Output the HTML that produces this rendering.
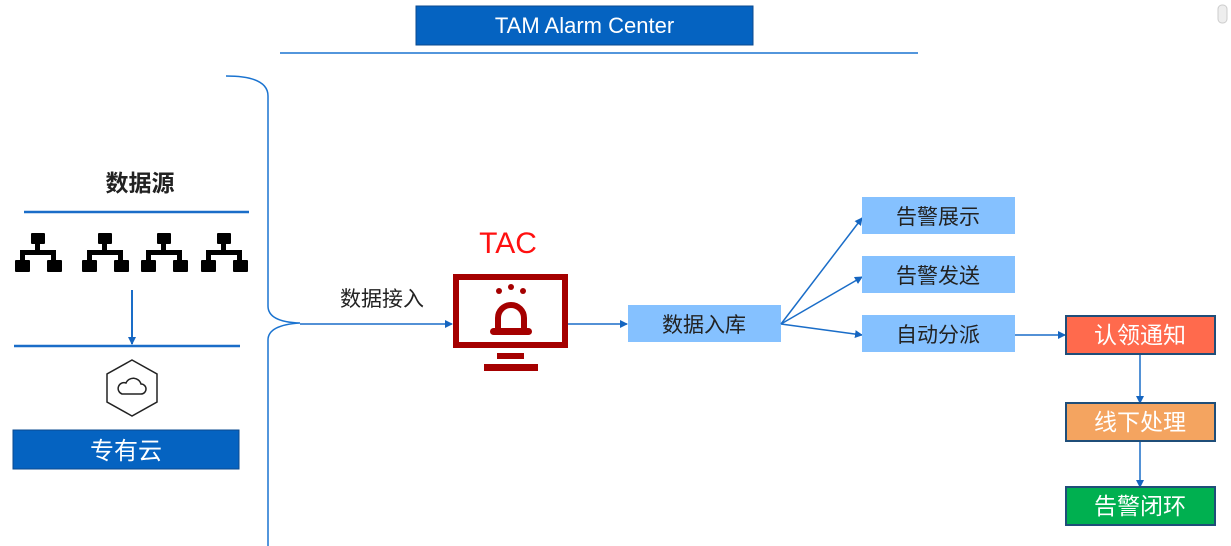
<!DOCTYPE html>
<html><head><meta charset="utf-8"><style>
body{margin:0;background:#fff;}
svg{display:block;font-family:"Liberation Sans","Noto Sans CJK SC",sans-serif;}
</style></head><body>
<svg width="1231" height="546" viewBox="0 0 1231 546">
<defs>
<marker id="a" markerWidth="8" markerHeight="8" refX="7" refY="4" orient="auto" markerUnits="userSpaceOnUse"><path d="M0,0 L8,4 L0,8 Z" fill="#1565C0"/></marker>
<g id="net"><rect x="16" y="0" width="14" height="11" rx="1"/><rect x="20" y="9" width="5" height="10"/><rect x="5" y="17" width="36" height="5"/><rect x="5" y="17" width="5" height="12"/><rect x="36" y="17" width="5" height="12"/><rect x="0" y="27" width="15" height="12" rx="1"/><rect x="32" y="27" width="15" height="12" rx="1"/></g>
</defs>
<rect x="416" y="6" width="337" height="39" fill="#0563C1" stroke="#0a4a8f" stroke-width="1"/>
<text x="584.5" y="33" fill="#fff" font-size="22" text-anchor="middle">TAM Alarm Center</text>
<line x1="280" y1="53" x2="918" y2="53" stroke="#1a73d0" stroke-width="1.5"/>
<rect x="1218" y="5" width="9" height="18" rx="4" fill="#eee" stroke="#ccc"/>
<path d="M226,76 Q268,76 268,96 L268,306 Q268,322 300,323 Q268,325 268,340 L268,546" fill="none" stroke="#1a73d0" stroke-width="1.5"/>
<text x="140" y="191" font-size="23" font-weight="bold" text-anchor="middle" fill="#222">数据源</text>
<line x1="24" y1="212" x2="249" y2="212" stroke="#1a6dc8" stroke-width="2.5"/>
<use href="#net" x="15" y="233"/><use href="#net" x="82" y="233"/><use href="#net" x="141" y="233"/><use href="#net" x="201" y="233"/>
<line x1="132" y1="290" x2="132" y2="344" stroke="#1a6dc8" stroke-width="2" marker-end="url(#a)"/>
<line x1="14" y1="346" x2="240" y2="346" stroke="#1a6dc8" stroke-width="2.5"/>
<polygon points="132,360 157,374 157,402 132,416 107,402 107,374" fill="none" stroke="#222" stroke-width="1.5"/>
<path d="M122,394 h19 a5,5 0 0 0 0,-10 a8,8 0 0 0 -15,-1 a5,5 0 0 0 -4,11 z" fill="none" stroke="#222" stroke-width="1.5"/>
<rect x="13" y="430" width="226" height="39" fill="#0563C1" stroke="#0a4a8f"/>
<text x="126" y="459" fill="#fff" font-size="24" text-anchor="middle">专有云</text>
<text x="382" y="306" font-size="21" text-anchor="middle" fill="#222">数据接入</text>
<line x1="300" y1="324" x2="452" y2="324" stroke="#1a6dc8" stroke-width="1.5" marker-end="url(#a)"/>
<text x="508" y="253" font-size="30" fill="#ff1010" text-anchor="middle">TAC</text>
<rect x="456" y="277" width="109" height="68" fill="none" stroke="#A50000" stroke-width="6"/>
<rect x="497" y="353" width="27" height="6" fill="#A50000"/>
<rect x="484" y="364" width="54" height="7" fill="#A50000"/>
<path d="M498,331 v-13 a13,13 0 0 1 26,0 v13" fill="none" stroke="#A50000" stroke-width="6"/>
<rect x="490" y="328" width="42" height="7" rx="3.5" fill="#A50000"/>
<circle cx="511" cy="287" r="3" fill="#A50000"/><circle cx="499" cy="291" r="3" fill="#A50000"/><circle cx="523" cy="291" r="3" fill="#A50000"/>
<line x1="568" y1="324" x2="627" y2="324" stroke="#1a6dc8" stroke-width="1.5" marker-end="url(#a)"/>
<rect x="628" y="305" width="153" height="37" fill="#85C1FF"/>
<text x="704" y="332" font-size="21" text-anchor="middle" fill="#222">数据入库</text>
<g stroke="#1a6dc8" stroke-width="1.5" marker-end="url(#a)">
<line x1="781" y1="324" x2="862" y2="218"/><line x1="781" y1="324" x2="862" y2="277"/><line x1="781" y1="324" x2="862" y2="335"/>
<line x1="1015" y1="335" x2="1065" y2="335"/>
<line x1="1140" y1="354" x2="1140" y2="403"/><line x1="1140" y1="442" x2="1140" y2="487"/>
</g>
<g font-size="21" text-anchor="middle" fill="#222">
<rect x="862" y="197" width="153" height="37" fill="#85C1FF"/><text x="938" y="224">告警展示</text>
<rect x="862" y="256" width="153" height="37" fill="#85C1FF"/><text x="938" y="283">告警发送</text>
<rect x="862" y="315" width="153" height="37" fill="#85C1FF"/><text x="938" y="342">自动分派</text>
</g>
<g stroke-width="2" stroke="#1F4E79">
<rect x="1066" y="316" width="149" height="38" fill="#FF6A4D"/>
<rect x="1066" y="403" width="149" height="38" fill="#F4A460"/>
<rect x="1066" y="487" width="149" height="38" fill="#00B050"/>
</g>
<g font-size="23" text-anchor="middle" fill="#fff">
<text x="1140" y="343">认领通知</text><text x="1140" y="430">线下处理</text><text x="1140" y="514">告警闭环</text>
</g>
</svg>
</body></html>
